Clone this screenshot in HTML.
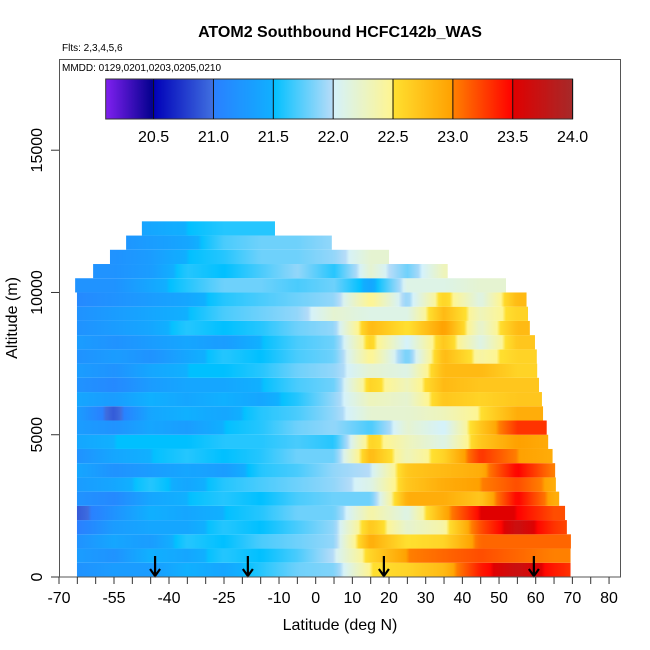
<!DOCTYPE html>
<html><head><meta charset="utf-8"><style>
html,body{margin:0;padding:0;background:#fff;}
svg{display:block;font-family:"Liberation Sans",sans-serif;}
</style></head><body>
<svg id="chart" width="650" height="650" viewBox="0 0 650 650">
<text x="340" y="37" text-anchor="middle" font-size="16" font-weight="bold">ATOM2 Southbound HCFC142b_WAS</text>
<text x="62" y="51" font-size="10">Flts: 2,3,4,5,6</text>
<g id="heat"></g>
<g id="arrows"></g>
<rect x="59.5" y="59.5" width="561" height="517.5" fill="none" stroke="#555" stroke-width="1"/>
<text x="62" y="71" font-size="10">MMDD: 0129,0201,0203,0205,0210</text>
<g id="cbar"></g>
<g id="xaxis"></g>
<g id="yaxis"></g>
<text x="340" y="630" text-anchor="middle" font-size="16">Latitude (deg N)</text>
<text transform="translate(17,318) rotate(-90)" text-anchor="middle" font-size="16">Altitude (m)</text>
</svg>
<script>
const lats=[-65,-55,-45,-35,-25,-15,-5,5,15,25,35,45,55,65,70];
const rowStart=[-65.1,-65.1,-65.1,-65.1,-65.1,-65.1,-65.1,-65.1,-65.1,-65.1,-65.1,-65.1,-65.1,-65.1,-65.1,-65.1,-65.1,-65.1,-65.1,-65.1,-65.6,-60.7,-56.1,-51.7,-47.4];
const rowEnd=[69.5,69.5,69.6,68.5,68,66.4,65.5,65.3,64.6,63.4,63,62,61.7,60.9,60.4,60.3,59.8,58.4,57.9,57.5,51.9,36,20,4.4,-11.1];
const rowValues=[
[21.2,21.3,21.3,21.5,21.4,21.6,21.8,21.85,22.5,22.6,22.8,23.4,23.7,23.4,23.3],
[21.3,21.2,21.5,21.4,21.6,21.5,21.7,22.0,22.6,23.0,23.1,23.2,23.1,23.0,23.0],
[21.2,21.4,21.3,21.6,21.5,21.7,21.8,21.9,22.9,22.5,22.6,23.1,23.1,23.1,23.1],
[21.0,21.3,21.4,21.4,21.6,21.5,21.7,21.9,22.7,22.2,22.4,23.2,23.7,23.3,23.2],
[20.9,21.2,21.5,21.4,21.5,21.6,21.8,21.8,22.4,22.1,22.9,23.5,23.5,23.2,23.2],
[21.2,21.1,21.4,21.5,21.6,21.5,21.7,21.8,21.8,22.9,22.9,22.7,23.5,22.9,22.9],
[21.3,21.4,21.6,21.4,21.6,21.7,21.8,21.9,22.1,22.7,22.9,23.0,23.2,22.9,22.9],
[21.4,21.2,21.3,21.4,21.3,21.6,21.7,21.9,22.0,22.7,22.8,22.9,23.5,23.0,23.0],
[21.2,21.4,21.5,21.6,21.5,21.6,21.8,21.8,22.8,22.3,22.6,23.3,23.0,22.9,22.9],
[21.4,21.5,21.5,21.5,21.6,21.6,21.7,21.6,22.6,22.3,22.1,22.7,23.0,22.9,22.9],
[21.3,21.2,21.4,21.3,21.5,21.6,21.8,21.9,21.7,22.2,22.0,22.7,23.3,23.3,23.3],
[21.3,20.9,21.4,21.5,21.4,21.6,21.7,21.9,22.2,22.2,22.3,22.5,22.9,22.9,22.9],
[21.4,21.3,21.5,21.4,21.5,21.4,21.6,21.9,22.3,22.2,22.7,22.6,22.7,22.7,22.7],
[21.2,21.1,21.3,21.4,21.4,21.5,21.7,21.8,22.6,22.3,22.8,22.7,22.7,22.7,22.7],
[21.3,21.2,21.4,21.5,21.5,21.6,21.8,21.9,22.2,22.1,22.8,22.8,22.6,22.6,22.6],
[21.2,21.3,21.2,21.4,21.6,21.5,21.7,21.8,22.5,21.8,22.8,22.4,22.6,22.6,22.6],
[21.3,21.2,21.3,21.4,21.3,21.5,21.7,21.8,22.6,22.0,22.7,22.1,22.7,22.7,22.7],
[21.2,21.3,21.4,21.6,21.5,21.6,21.8,21.9,22.8,22.5,23.0,22.2,22.8,22.8,22.8],
[21.2,21.3,21.4,21.5,21.7,21.8,21.9,22.2,22.1,22.1,22.8,22.3,22.6,22.6,22.6],
[21.1,21.2,21.3,21.4,21.6,21.7,21.8,21.9,22.5,21.9,22.6,22.1,22.8,22.8,22.8],
[21.2,21.2,21.4,21.6,21.8,21.8,21.7,21.8,21.4,22.1,22.1,22.2,22.2,22.2,22.2],
[21.2,21.2,21.3,21.6,21.5,21.7,21.9,21.6,22.2,21.8,22.3,22.3,22.3,22.3,22.3],
[21.2,21.2,21.3,21.5,21.6,21.8,21.8,21.9,22.2,22.2,22.2,22.2,22.2,22.2,22.2],
[21.2,21.2,21.3,21.4,21.7,21.8,21.8,21.9,21.9,21.9,21.9,21.9,21.9,21.9,21.9],
[21.3,21.3,21.4,21.5,21.6,21.6,21.6,21.6,21.6,21.6,21.6,21.6,21.6,21.6,21.6]
];
const rowBase=[0,500,1000,1500,2000,2500,3000,3500,4000,4500,5000,5500,6000,6500,7000,7500,8000,8500,9000,9500,10000,10500,11000,11500,12000];
const rowHeight=500;
const arrowLats=[-43.8,-18.5,18.6,59.5];
const xTickLabels=[-70,-55,-40,-25,-10,0,10,20,30,40,50,60,70,80];
const yTickLabels=[0,5000,10000,15000];
const cbarTicks=[20.5,21.0,21.5,22.0,22.5,23.0,23.5,24.0];
const cbarMin=20.1, cbarMax=24.0;

const NS="http://www.w3.org/2000/svg";
const X=lat=>59+(lat+70)*3.667;
const Y=alt=>577-alt*0.028453;
const segs=[[20.1,20.5,"#8020f0","#00008b"],[20.5,21.0,"#0000b8","#4070e0"],[21.0,21.5,"#2a7fff","#10b0ff"],[21.5,22.0,"#00c0ff","#b8dcf8"],[22.0,22.5,"#d4f2fc","#fff590"],[22.5,23.0,"#ffe030","#ffa000"],[23.0,23.5,"#ff8000","#ff0000"],[23.5,24.01,"#e00000","#a52a2a"]];
function hx(h){return [1,3,5].map(i=>parseInt(h.substr(i,2),16));}
function cmap(v){
  v=Math.max(20.1,Math.min(24,v));
  for(const s of segs){ if(v<s[1]){const t=(v-s[0])/(s[1]-s[0]);const a=hx(s[2]),b=hx(s[3]);
    return "rgb("+a.map((c,i)=>Math.round(c+(b[i]-c)*t)).join(",")+")";}}
  return segs[segs.length-1][3];
}
function valAt(vals,lat){
  if(lat<=lats[0])return vals[0];
  for(let i=0;i<lats.length-1;i++){ if(lat<=lats[i+1]){const t=(lat-lats[i])/(lats[i+1]-lats[i]);return vals[i]+(vals[i+1]-vals[i])*t;}}
  return vals[vals.length-1];
}
function mk(tag,attrs,parent){const e=document.createElementNS(NS,tag);for(const k in attrs)e.setAttribute(k,attrs[k]);parent.appendChild(e);return e;}
const svg=document.getElementById("chart");
const defs=mk("defs",{},svg);
const heat=document.getElementById("heat");
rowValues.forEach((vals,r)=>{
  const s=rowStart[r],e=rowEnd[r];
  const g=mk("linearGradient",{id:"rg"+r,x1:"0",x2:"1",y1:"0",y2:"0"},defs);
  const n=Math.max(2,Math.ceil(e-s));
  for(let k=0;k<=n;k++){const lat=s+(e-s)*k/n;mk("stop",{offset:(k/n).toFixed(4),"stop-color":cmap(valAt(vals,lat))},g);}
  const y1=Y(rowBase[r]+rowHeight),y0=Y(rowBase[r]);
  const rect=mk("rect",{x:X(s),y:y1,width:X(e)-X(s),height:y0-y1,fill:"url(#rg"+r+")"},heat);
  
  
});
const arr=document.getElementById("arrows");
arrowLats.forEach(l=>{
  const x=X(l);
  const p=mk("path",{d:`M${x} 556 L${x} 576 M${x-5} 569 L${x} 576 L${x+5} 569`,stroke:"#000","stroke-width":"2.2",fill:"none"},arr);
  
  
});
// colorbar
const cb=document.getElementById("cbar");
const cx=v=>105.7+(v-cbarMin)/(cbarMax-cbarMin)*(572.6-105.7);
const cg=mk("linearGradient",{id:"cbg",x1:"0",x2:"1",y1:"0",y2:"0"},defs);
for(let k=0;k<=390;k++){const v=cbarMin+(cbarMax-cbarMin)*k/390;mk("stop",{offset:(k/390).toFixed(4),"stop-color":cmap(v)},cg);}
const cr=mk("rect",{x:105.7,y:79,width:572.6-105.7,height:40,fill:"url(#cbg)",stroke:"#333","stroke-width":"1"},cb);


cbarTicks.forEach(v=>{
  const x=cx(v);
  mk("line",{x1:x,x2:x,y1:79,y2:119,stroke:"#111","stroke-width":"1"},cb);
  const t=mk("text",{x:x,y:142,"text-anchor":"middle","font-size":"16"},cb);
  t.textContent=v.toFixed(1);
  
  
});
// x axis
const xa=document.getElementById("xaxis");
for(let l=-70;l<=80;l+=5){mk("line",{x1:X(l),x2:X(l),y1:577,y2:584,stroke:"#333","stroke-width":"1"},xa);}
xTickLabels.forEach(l=>{
  const t=mk("text",{x:X(l),y:603,"text-anchor":"middle","font-size":"16"},xa);
  t.textContent=l;
  
  
});
// y axis
const ya=document.getElementById("yaxis");
yTickLabels.forEach(a=>{
  const y=Y(a);
  mk("line",{x1:51,x2:59,y1:y,y2:y,stroke:"#333","stroke-width":"1"},ya);
  const t=mk("text",{transform:`translate(42,${y}) rotate(-90)`,"text-anchor":"middle","font-size":"16"},ya);
  t.textContent=a;
  
  
});
</script>
</body></html>
